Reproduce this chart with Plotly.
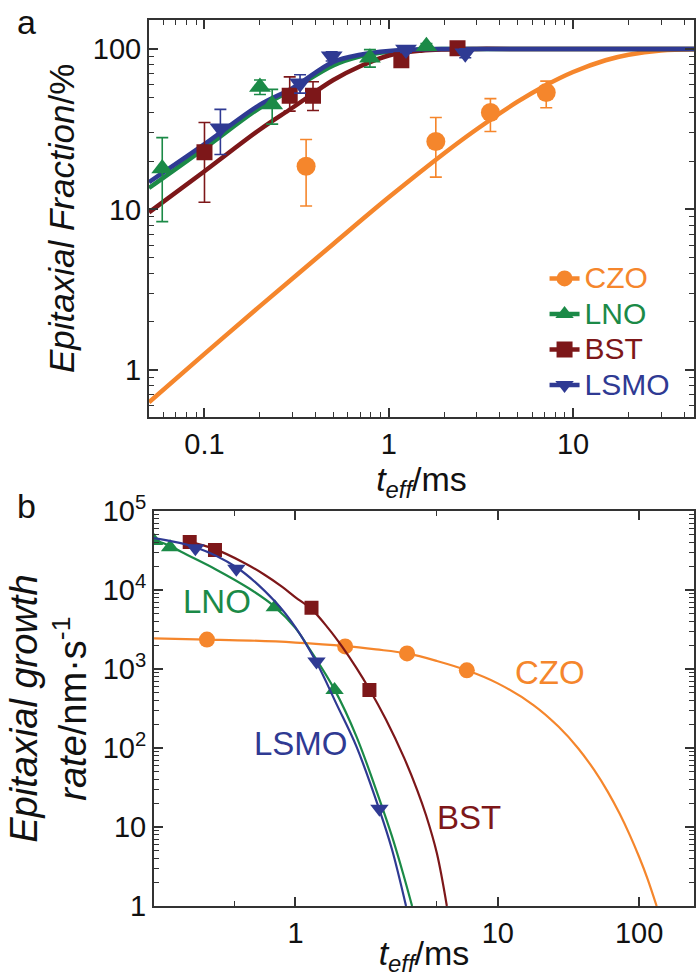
import plotly.graph_objects as go

# ---------------- colours / fonts ----------------
C_CZO = "#F5862C"
C_LNO = "#1B8A47"
C_BST = "#7D1719"
C_LSMO = "#2F3A93"
FONT = "Liberation Sans, Arial, sans-serif"
AX = "#333333"

# ---------------- panel a : epitaxial fraction (%) ----------------
# measured points
czo_a_t = [0.356, 1.8, 3.56, 7.15]
czo_a_f = [18.6, 26.5, 40.2, 53.5]
czo_a_ep = [8.7, 10.9, 8.8, 9.5]
czo_a_em = [8.1, 10.6, 9.6, 10.5]

lno_a_t = [0.059, 0.2, 0.233, 0.79, 1.6]
lno_a_f = [18.0, 58.0, 45.0, 88.0, 104.0]
lno_a_ep = [10.0, 6.0, 11.0, 11.0, 4.0]
lno_a_em = [9.6, 6.0, 11.0, 11.0, 4.0]

bst_a_t = [0.1, 0.29, 0.388, 1.17, 2.36]
bst_a_f = [22.7, 51.0, 51.0, 85.0, 101.0]
bst_a_ep = [12.1, 16.0, 11.5, 6.0, 5.0]
bst_a_em = [11.6, 10.0, 9.7, 6.0, 5.0]

lsmo_a_t = [0.122, 0.33, 0.49, 1.24, 2.6]
lsmo_a_f = [32.0, 61.0, 90.0, 99.0, 94.0]
lsmo_a_ep = [10.0, 8.0, 6.0, 4.0, 6.0]
lsmo_a_em = [10.0, 8.0, 6.0, 4.0, 6.0]

# fitted curves
czo_fit_t = [0.05, 0.1, 0.2, 0.5, 1, 2, 3, 5, 7, 10, 15, 20, 30, 50]
czo_fit_f = [0.63, 1.26, 2.5, 6.1, 11.9, 22.4, 31.6, 46.9, 58.8, 71.8, 85, 92, 97.8, 99.8]
fast_fit_t = [0.05, 0.1, 0.2, 0.3, 0.5, 0.7, 1, 1.5, 2, 3, 5, 50]
lsmo_fit_f = [14.8, 25.5, 45, 57, 83, 92, 97, 99.4, 99.9, 100, 100, 100]
lno_fit_f = [13.6, 24, 43, 56, 79, 90, 96, 99, 99.8, 100, 100, 100]
bst_fit_f = [9.6, 17.3, 31.5, 43, 64, 78, 91, 97.5, 99.3, 100, 100, 100]

# ---------------- panel b : epitaxial growth rate (nm/s) ----------------
czo_b_t = [0.365, 1.76, 3.56, 7.03]
czo_b_r = [2370, 1940, 1580, 966]
lno_b_t = [0.2, 0.24, 0.79, 1.56]
lno_b_r = [42000, 35000, 6100, 545]
lsmo_b_t = [0.32, 0.51, 1.27, 2.6]
lsmo_b_r = [34000, 18700, 1250, 17]
bst_b_t = [0.30, 0.40, 1.2, 2.32]
bst_b_r = [40700, 32300, 6000, 545]

czo_bc_t = [0.2, 0.365, 0.6, 1.0, 1.76, 2.5, 3.56, 5, 7.03, 10, 15, 20, 25, 30, 35, 40, 45, 50, 55, 61]
czo_bc_r = [2450, 2370, 2300, 2170, 1960, 1780, 1580, 1270, 966, 660, 351, 186, 99, 52.5, 27.9, 14.8,
            7.85, 4.17, 2.21, 1.0]
lno_bc_t = [0.2, 0.24, 0.28, 0.4, 0.59, 0.79, 1.0, 1.17, 1.56, 2.0, 2.6, 3.0, 3.4, 3.77]
lno_bc_r = [43600, 36300, 29500, 18600, 10500, 6160, 3310, 1820, 550, 141, 22.4, 7.6, 2.6, 1.0]
lsmo_bc_t = [0.2, 0.32, 0.51, 0.79, 1.0, 1.27, 1.6, 2.0, 2.6, 3.0, 3.52]
lsmo_bc_r = [45700, 35000, 19500, 7240, 3390, 1220, 355, 105, 16.5, 5.2, 1.0]
bst_bc_t = [0.28, 0.4, 0.55, 0.7, 0.86, 1.0, 1.2, 1.45, 1.7, 2.0, 2.32, 2.8, 3.44, 4.0, 4.42, 5.0, 5.6]
bst_bc_r = [42700, 33100, 22600, 15800, 11000, 8130, 5750, 3310, 1930, 1040, 557, 230, 75.7, 29.2,
            14.1, 4.65, 1.0]

# tick labels
xa_ticks = [0.1, 1, 10]
xa_text = ["0.1", "1", "10"]
ya_ticks = [1, 10, 100]
ya_text = ["1", "10", "100"]
xb_ticks = [1, 10, 50]
xb_text = ["1", "10", "100"]
xb_minor = [0.5, 5]
yb_ticks = [1, 10, 100, 1000, 10000, 100000]
yb_text = ["1", "10", "10<sup>2</sup>", "10<sup>3</sup>", "10<sup>4</sup>", "10<sup>5</sup>"]

def decade_minors(lo, hi):
    out = []
    e = lo
    while e < hi:
        for k in range(2, 10):
            out.append(k * 10.0 ** e)
        e += 1
    return out

series = [
    ("CZO", C_CZO, "circle", czo_a_t, czo_a_f, czo_a_ep, czo_a_em, czo_fit_t, czo_fit_f,
     czo_b_t, czo_b_r, czo_bc_t, czo_bc_r),
    ("LNO", C_LNO, "triangle-up", lno_a_t, lno_a_f, lno_a_ep, lno_a_em, fast_fit_t, lno_fit_f,
     lno_b_t, lno_b_r, lno_bc_t, lno_bc_r),
    ("BST", C_BST, "square", bst_a_t, bst_a_f, bst_a_ep, bst_a_em, fast_fit_t, bst_fit_f,
     bst_b_t, bst_b_r, bst_bc_t, bst_bc_r),
    ("LSMO", C_LSMO, "triangle-down", lsmo_a_t, lsmo_a_f, lsmo_a_ep, lsmo_a_em, fast_fit_t, lsmo_fit_f,
     lsmo_b_t, lsmo_b_r, lsmo_bc_t, lsmo_bc_r),
]

fig = go.Figure()
msize_a = {"circle": 19, "triangle-up": 19, "square": 16, "triangle-down": 19}
msize_b = {"circle": 16, "triangle-up": 16, "square": 14, "triangle-down": 16}

for (name, col, sym, at, af, aep, aem, ft, ff, bt, br, bct, bcr) in series:
    fig.add_trace(go.Scatter(x=ft, y=ff, mode="lines", line=dict(color=col, width=4.5, shape="spline"),
                             showlegend=False, xaxis="x", yaxis="y", hoverinfo="skip"))
for (name, col, sym, at, af, aep, aem, ft, ff, bt, br, bct, bcr) in series:
    fig.add_trace(go.Scatter(x=at, y=af, mode="markers",
                             marker=dict(color=col, symbol=sym, size=msize_a[sym], line=dict(width=0)),
                             error_y=dict(type="data", symmetric=False, array=aep, arrayminus=aem,
                                          color=col, thickness=1.6, width=6),
                             showlegend=False, xaxis="x", yaxis="y"))
for (name, col, sym, at, af, aep, aem, ft, ff, bt, br, bct, bcr) in series:
    fig.add_trace(go.Scatter(x=bct, y=bcr, mode="lines", line=dict(color=col, width=2.2, shape="spline"),
                             showlegend=False, xaxis="x2", yaxis="y2", hoverinfo="skip"))
    fig.add_trace(go.Scatter(x=bt, y=br, mode="markers",
                             marker=dict(color=col, symbol=sym, size=msize_b[sym], line=dict(width=0)),
                             showlegend=False, xaxis="x2", yaxis="y2"))
# legend entries
for (name, col, sym, *_rest) in series:
    fig.add_trace(go.Scatter(x=[None], y=[None], mode="lines+markers",
                             name=f"<span style='color:{col};font-size:30px'>{name}</span>",
                             line=dict(color=col, width=4.5),
                             marker=dict(color=col, symbol=sym, size=msize_a[sym]),
                             xaxis="x", yaxis="y"))

def axis_common():
    return dict(type="log", showline=True, linecolor=AX, linewidth=2, mirror="ticks",
                ticks="inside", tickcolor=AX, tickwidth=1.5, ticklen=9,
                showgrid=False, zeroline=False,
                tickfont=dict(family=FONT, size=29, color="#111111"))

plot_h = 977 - 15 - 71
plot_w = 696 - 149
ya_dom = [(906 - 414) / plot_h, 1.0]
yb_dom = [0.0, (906 - 509) / plot_h]

xa = axis_common()
xa.update(range=[-1.301, 1.656], tickmode="array", tickvals=xa_ticks, ticktext=xa_text,
          minor=dict(tickmode="array", tickvals=decade_minors(-2, 2), ticks="inside", ticklen=5,
                     tickwidth=1.3, tickcolor=AX, showgrid=False),
          title=dict(text="<i>t</i><sub><i>eff</i></sub>/ms", font=dict(family=FONT, size=34, color="#111111"),
                     standoff=2),
          anchor="y", domain=[0, 1])
ya = axis_common()
ya.update(range=[-0.291, 2.18], tickmode="array", tickvals=ya_ticks, ticktext=ya_text,
          minor=dict(tickmode="array", tickvals=decade_minors(-1, 3), ticks="inside", ticklen=5,
                     tickwidth=1.3, tickcolor=AX, showgrid=False),
          title=dict(text="<i>Epitaxial Fraction</i>/%", font=dict(family=FONT, size=35, color="#111111"),
                     standoff=8),
          anchor="x", domain=ya_dom)
xb = axis_common()
xb.update(range=[-0.6995, 1.970], tickmode="array", tickvals=xb_ticks, ticktext=xb_text,
          minor=dict(tickmode="array", tickvals=xb_minor, ticks="inside", ticklen=5,
                     tickwidth=1.3, tickcolor=AX, showgrid=False),
          title=dict(text="<i>t</i><sub><i>eff</i></sub>/ms", font=dict(family=FONT, size=34, color="#111111"),
                     standoff=2),
          anchor="y2", domain=[(154 - 149) / plot_w, 1])
yb = axis_common()
yb.update(range=[0, 5.0], tickmode="array", tickvals=yb_ticks, ticktext=yb_text,
          minor=dict(tickmode="array", tickvals=decade_minors(0, 5), ticks="inside", ticklen=5,
                     tickwidth=1.3, tickcolor=AX, showgrid=False),
          title=dict(text="<i>Epitaxial growth</i><br><i>rate</i>/nm·s<sup>-1</sup>",
                     font=dict(family=FONT, size=38, color="#111111"), standoff=4),
          anchor="x2", domain=yb_dom)

annots = [
    dict(text="a", x=(26 - 149) / plot_w, y=(906 - 17) / plot_h, xref="paper", yref="paper",
         xanchor="center", yanchor="middle",
         showarrow=False, font=dict(family=FONT, size=34, color="#111111")),
    dict(text="b", x=(26 - 149) / plot_w, y=(906 - 504) / plot_h, xref="paper", yref="paper",
         xanchor="center", yanchor="middle",
         showarrow=False, font=dict(family=FONT, size=34, color="#111111")),
    dict(text="LNO", x=-0.389, y=3.854, xref="x2", yref="y2", showarrow=False,
         font=dict(family=FONT, size=33, color=C_LNO)),
    dict(text="CZO", x=1.256, y=2.96, xref="x2", yref="y2", showarrow=False,
         font=dict(family=FONT, size=33, color=C_CZO)),
    dict(text="LSMO", x=0.025, y=2.053, xref="x2", yref="y2", showarrow=False,
         font=dict(family=FONT, size=33, color=C_LSMO)),
    dict(text="BST", x=0.857, y=1.121, xref="x2", yref="y2", showarrow=False,
         font=dict(family=FONT, size=33, color=C_BST)),
]

fig.update_layout(
    width=696, height=977,
    margin=dict(l=149, r=0, t=15, b=71),
    paper_bgcolor="white", plot_bgcolor="white",
    xaxis=xa, yaxis=ya, xaxis2=xb, yaxis2=yb,
    annotations=annots,
    legend=dict(x=(546 - 149) / plot_w, y=(906 - 252) / plot_h, xanchor="left", yanchor="top",
                bgcolor="rgba(0,0,0,0)", borderwidth=0, font=dict(family=FONT, size=25),
                tracegroupgap=0, itemsizing="trace"),
    font=dict(family=FONT),
)

fig.write_html("out.html")
